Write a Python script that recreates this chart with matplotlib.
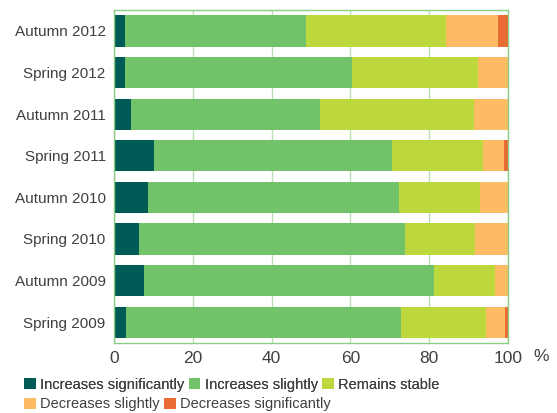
import matplotlib.pyplot as plt
import numpy as np

plt.rcParams['font.family'] = ['Liberation Sans', 'DejaVu Sans']

periods = ['Spring 2009', 'Autumn 2009', 'Spring 2010', 'Autumn 2010',
           'Spring 2011', 'Autumn 2011', 'Spring 2012', 'Autumn 2012']
inc_sig = [3.0, 7.6, 6.3, 8.6, 10.2, 4.3, 2.8, 2.8]
inc_slight = [69.8, 73.6, 67.5, 63.7, 60.4, 48.0, 57.6, 45.9]
stable = [21.6, 15.6, 17.8, 20.5, 23.1, 39.0, 31.9, 35.5]
dec_slight = [4.8, 3.2, 8.4, 7.2, 5.3, 8.7, 7.7, 13.3]
dec_sig = [0.8, 0.0, 0.0, 0.0, 1.0, 0.0, 0.0, 2.5]

series = [inc_sig, inc_slight, stable, dec_slight, dec_sig]
names = ['Increases significantly', 'Increases slightly', 'Remains stable',
         'Decreases slightly', 'Decreases significantly']
colors = ['#005a55', '#72c26a', '#bdd83c', '#fdbb63', '#e96c35']

txt = '#404040'
fig = plt.figure(figsize=(5.57, 4.13), dpi=100)
ax = fig.add_axes([0.2047, 0.1695, 0.7074, 0.806])

y = np.arange(len(periods))
left = np.zeros(len(periods))
bars = []
for vals, c in zip(series, colors):
    b = ax.barh(y, vals, left=left, height=0.75, color=c, zorder=3)
    bars.append(b)
    left += np.array(vals)

ax.set_xlim(0, 100)
ax.set_ylim(-0.5, 7.5)
ax.set_yticks(y)
ax.set_yticklabels(periods, fontsize=11, color=txt)
ax.set_xticks([0, 20, 40, 60, 80, 100])
ax.tick_params(axis='x', labelsize=12.5, colors=txt, length=0, pad=6)
ax.tick_params(axis='y', length=0, pad=6, colors=txt)
ax.grid(axis='x', color='#b8dfb2', linewidth=1, zorder=0)
for s in ax.spines.values():
    s.set_color('#8ccf84')
    s.set_linewidth(1)
    s.set_zorder(4)

fig.text(0.958, 0.136, '%', fontsize=12.5, color=txt, ha='left', va='center')

# two legend rows, laid out left to right like the original
leg1 = fig.legend(bars[:3], names[:3], loc='upper left', bbox_to_anchor=(0.03, 0.103),
                  ncol=3, frameon=False, fontsize=10.5, handlelength=0.8, handleheight=0.8,
                  handletextpad=0.3, columnspacing=0.3, borderpad=0, labelcolor=txt)
leg2 = fig.legend(bars[3:], names[3:], loc='upper left', bbox_to_anchor=(0.03, 0.056),
                  ncol=2, frameon=False, fontsize=10.5, handlelength=0.8, handleheight=0.8,
                  handletextpad=0.3, columnspacing=0.3, borderpad=0, labelcolor=txt)
fig.add_artist(leg1)

fig.savefig('out.png', dpi=100)
